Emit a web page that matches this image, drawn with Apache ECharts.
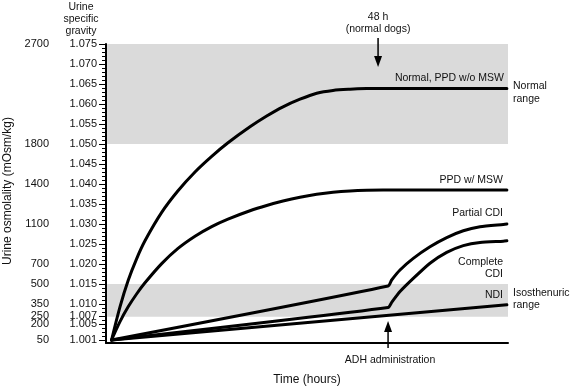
<!DOCTYPE html>
<html><head><meta charset="utf-8">
<script src="https://cdn.jsdelivr.net/npm/echarts@6/dist/echarts.min.js"></script>
<style>html,body{margin:0;padding:0;background:#fff}#c{width:570px;height:387px}</style>
</head><body><div id="c"></div>
<script>
// ---- data ----
const sgTickValues = [1.001,1.005,1.007,1.010,1.015,1.020,1.025,1.030,1.035,1.040,1.045,1.050,1.055,1.060,1.065,1.070,1.075];
const sgTickLabels = ['1.001','1.005','1.007','1.010','1.015','1.020','1.025','1.030','1.035','1.040','1.045','1.050','1.055','1.060','1.065','1.070','1.075'];
const osmTickValues = [1.001,1.005,1.007,1.010,1.015,1.020,1.030,1.040,1.050,1.075];
const osmTickLabels = ['50','200','250','350','500','700','1100','1400','1800','2700'];

const normalT = [0,1.52,3.02,4.51,6.02,9.03,11.97,15.03,18.04,20.97,24.93,27.94,30.88,33.94,36.95,39.88,42.94,45.95,48.89,71.2];
const normalV = [1.001,1.0093,1.0160,1.0213,1.0258,1.0329,1.0383,1.0430,1.0469,1.0503,1.0543,1.0570,1.0593,1.0612,1.0627,1.0634,1.0637,1.06385,1.0639,1.0639];

const ppdT = [0,1.52,3.02,4.51,6.02,9.03,11.97,15.03,18.04,20.97,24.93,27.94,30.88,33.94,36.95,39.88,42.94,45.95,48.89,71.2];
const ppdV = [1.001,1.0056,1.00935,1.0125,1.0153,1.0201,1.0239,1.02695,1.02936,1.03123,1.03332,1.03464,1.03574,1.03669,1.03742,1.03794,1.03828,1.03845,1.0385,1.0385];

const partialT = [0,49.8,50.45,51.95,54.34,57.35,60.36,63.35,66.36,70.55,71.2];
const partialV = [1.001,1.0145,1.016,1.0185,1.0214,1.0243,1.0266,1.0283,1.0293,1.0299,1.030];

const completeT = [0,49.8,50.45,51.95,54.34,57.35,60.36,63.35,66.36,70.55,71.2];
const completeV = [1.001,1.0091,1.0104,1.0131,1.0164,1.0202,1.0229,1.0246,1.0254,1.0257,1.0258];

const ndiT = [0,71.2];
const ndiV = [1.001,1.0098];

const normalRange = [1.050,1.075];
const isoRange = [1.0068,1.015];
const arrow48hTime = 48;
const adhTime = 49.8;

// ---- chart ----
const FONT = '"Liberation Sans", Arial, Helvetica, sans-serif';
const TXT = '#111';
const zip = (a,b) => a.map((t,i)=>[t,b[i]]);
const minorTicks = [];
for (let i = 1; i <= 75; i++) minorTicks.push(+(1 + i/1000).toFixed(3));
const nearestLabel = (vals, labels, v) => {
  let bi = 0; vals.forEach((x,i)=>{ if (Math.abs(x-v) < Math.abs(vals[bi]-v)) bi = i; });
  return labels[bi];
};
const X_MIN = -1, X_MAX = 71.4, Y_MIN = 1.00025, Y_MAX = 1.075;
const BAND_X0 = -0.8;
const GRID_LEFT = 106;

const lineSeries = (name, data, smooth) => ({
  name, type: 'line', data, symbol: 'none', smooth, z: 3,
  lineStyle: { color: '#000', width: 3, cap: 'round', join: 'round' },
  silent: true
});

const chart = echarts.init(document.getElementById('c'));
chart.setOption({
  animation: false,
  grid: { left: GRID_LEFT, right: 62, top: 44, bottom: 44 },
  xAxis: {
    type: 'value', min: X_MIN, max: X_MAX,
    axisLine: { show: true, onZero: false, lineStyle: { color: '#000', width: 2 } },
    axisTick: { show: false }, axisLabel: { show: false }, splitLine: { show: false }
  },
  yAxis: [
    {
      type: 'value', min: Y_MIN, max: Y_MAX,
      axisLine: { show: true, onZero: false, lineStyle: { color: '#000', width: 2 } },
      axisTick: { show: true, customValues: sgTickValues, length: 7, lineStyle: { color: '#000', width: 1 } },
      axisLabel: { show: true, customValues: sgTickValues, margin: 9, color: TXT, fontSize: 11, fontFamily: FONT,
        formatter: v => nearestLabel(sgTickValues, sgTickLabels, v) },
      splitLine: { show: false }
    },
    {
      type: 'value', min: Y_MIN, max: Y_MAX, position: 'left',
      axisLine: { show: false, onZero: false }, axisTick: { show: false },
      axisLabel: { show: true, customValues: osmTickValues, margin: 57, color: TXT, fontSize: 11, fontFamily: FONT,
        formatter: v => nearestLabel(osmTickValues, osmTickLabels, v) },
      splitLine: { show: false }
    }
  ],
  series: [
    {
      name: 'bands', type: 'line', data: [], z: 1, silent: true,
      markArea: {
        silent: true,
        itemStyle: { color: '#dadada' },
        data: [
          [{ xAxis: BAND_X0, yAxis: normalRange[0] }, { xAxis: X_MAX, yAxis: normalRange[1] }],
          [{ xAxis: BAND_X0, yAxis: isoRange[0] }, { xAxis: X_MAX, yAxis: isoRange[1] }]
        ]
      }
    },
    lineSeries('Normal, PPD w/o MSW', zip(normalT, normalV), 0.3),
    lineSeries('PPD w/ MSW', zip(ppdT, ppdV), 0.3),
    lineSeries('Partial CDI', zip(partialT, partialV), 0.2),
    lineSeries('Complete CDI', zip(completeT, completeV), 0.2),
    lineSeries('NDI', zip(ndiT, ndiV), false)
  ]
});

// ---- annotations & tick marks ----
const Z = 20;
const px = (t, v) => chart.convertToPixel({ gridIndex: 0 }, [t, v]);
const p48 = px(arrow48hTime, 1.06925);
const pAdh = px(adhTime, 1.00575);
const tickRect = (v, len) => {
  const y = Math.round(px(X_MIN, v)[1]);
  return { type: 'rect', z: 50, silent: true, shape: { x: GRID_LEFT - len, y: y, width: len, height: 1 }, style: { fill: '#000' } };
};
const text = (str, x, y, align, vAlign, extra) => ({
  type: 'text', x, y, z: Z, silent: true,
  style: Object.assign({ text: str, fill: TXT, font: '10.5px ' + FONT, textAlign: align, textVerticalAlign: vAlign }, extra || {})
});
const arrowDown = (x, yTop, yTip) => [
  { type: 'line', z: Z, silent: true, shape: { x1: x, y1: yTop, x2: x, y2: yTip - 9 }, style: { stroke: '#000', lineWidth: 1.5 } },
  { type: 'polygon', z: Z, silent: true, shape: { points: [[x - 4, yTip - 11], [x + 4, yTip - 11], [x, yTip]] }, style: { fill: '#000' } }
];
const arrowUp = (x, yBottom, yTip) => [
  { type: 'line', z: Z, silent: true, shape: { x1: x, y1: yBottom, x2: x, y2: yTip + 9 }, style: { stroke: '#000', lineWidth: 1.5 } },
  { type: 'polygon', z: Z, silent: true, shape: { points: [[x - 4, yTip + 11], [x + 4, yTip + 11], [x, yTip]] }, style: { fill: '#000' } }
];

chart.setOption({
  graphic: [
    ...minorTicks.map(v => tickRect(v, 4)),
    ...sgTickValues.map(v => tickRect(v, 7)),
    text('Urine\nspecific\ngravity', 81, 1, 'center', 'top', { lineHeight: 12 }),
    { type: 'text', z: Z, silent: true, x: 8, y: 191, rotation: Math.PI / 2,
      style: { text: 'Urine osmolality (mOsm/kg)', fill: TXT, font: '12px ' + FONT, textAlign: 'center', textVerticalAlign: 'middle' } },
    text('48 h\n(normal dogs)', p48[0], 11, 'center', 'top', { lineHeight: 12 }),
    ...arrowDown(p48[0], 38, p48[1]),
    text('Normal, PPD w/o MSW', 504, 78, 'right', 'middle'),
    text('Normal\nrange', 513, 80, 'left', 'top', { lineHeight: 13 }),
    text('PPD w/ MSW', 503, 180, 'right', 'middle'),
    text('Partial CDI', 503, 213, 'right', 'middle'),
    text('Complete\nCDI', 503, 256, 'right', 'top', { lineHeight: 12 }),
    text('NDI', 503, 295, 'right', 'middle'),
    text('Isosthenuric\nrange', 513, 287, 'left', 'top', { lineHeight: 12 }),
    ...arrowUp(pAdh[0], 348, pAdh[1]),
    text('ADH administration', pAdh[0] + 2, 360, 'center', 'middle'),
    { type: 'text', z: Z, silent: true, x: 307, y: 380,
      style: { text: 'Time (hours)', fill: TXT, font: '12px ' + FONT, textAlign: 'center', textVerticalAlign: 'middle' } }
  ]
});
</script>
</body></html>
